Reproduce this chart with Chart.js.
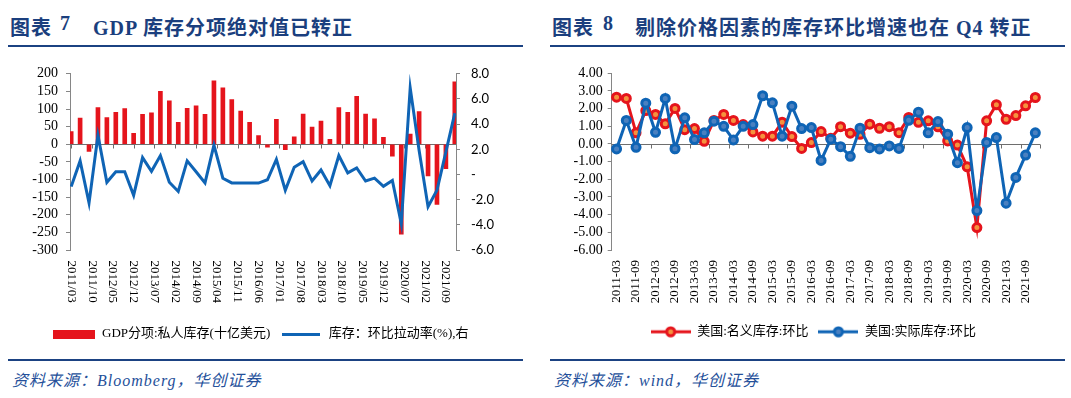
<!DOCTYPE html>
<html>
<head>
<meta charset="utf-8">
<script src="https://cdn.jsdelivr.net/npm/chart.js@4.4.1/dist/chart.umd.min.js"></script>
<style>
  html, body { margin: 0; padding: 0; background: #fff; }
  body { width: 1071px; height: 398px; position: relative; overflow: hidden; }
  .ttl { position: absolute; top: 12px; line-height: 26px; white-space: nowrap; letter-spacing: 1px;
         font: bold 20px 'Liberation Serif', 'Noto Sans CJK SC', serif; color: #1b3f7e; }
  .rule { position: absolute; height: 2px; width: 515px; background: #1b4282; }
  .src { position: absolute; top: 367px; line-height: 20px; white-space: nowrap; letter-spacing: 1px;
         font: italic 16px 'Liberation Serif', 'Noto Sans CJK SC', serif; color: #25509a; }
  canvas { position: absolute; top: 55px; }
</style>
</head>
<body>
<span class="ttl" style="left:10px">图表</span>
<span class="ttl" style="left:60px">7</span>
<span class="ttl" style="left:93px">GDP 库存分项绝对值已转正</span>
<div class="rule" style="left:8px;top:45px"></div>

<span class="ttl" style="left:552px">图表</span>
<span class="ttl" style="left:603px">8</span>
<span class="ttl" style="left:635px">剔除价格因素的库存环比增速也在 Q4 转正</span>
<div class="rule" style="left:550px;top:45px"></div>

<canvas id="c1" width="530" height="300" style="left:0px"></canvas>
<canvas id="c2" width="531" height="300" style="left:540px"></canvas>

<div class="rule" style="left:8px;top:359px"></div>
<div class="rule" style="left:550px;top:359px"></div>
<span class="src" style="left:12px">资料来源：Bloomberg，华创证券</span>
<span class="src" style="left:554px">资料来源：wind，华创证券</span>

<script>
// quarterly data, 2011Q1 .. 2021Q4
const quarters = [
  '2011-03','2011-06','2011-09','2011-12','2012-03','2012-06','2012-09','2012-12',
  '2013-03','2013-06','2013-09','2013-12','2014-03','2014-06','2014-09','2014-12',
  '2015-03','2015-06','2015-09','2015-12','2016-03','2016-06','2016-09','2016-12',
  '2017-03','2017-06','2017-09','2017-12','2018-03','2018-06','2018-09','2018-12',
  '2019-03','2019-06','2019-09','2019-12','2020-03','2020-06','2020-09','2020-12',
  '2021-03','2021-06','2021-09','2021-12'
];

// chart 7: private inventory (bn USD) and its q/q contribution (%)
const gdpInventory = [36, 74, -20, 104, 76, 91, 101, 31, 85, 89, 150, 123, 62, 102, 109, 85,
  180, 160, 127, 94, 62, 25, -8, 71, -15, 21, 86, 49, 66, 14, 104, 91,
  136, 86, 72, 20, -34, -255, 29, 93, -90, -171, -69, 177];
const inventoryPull = [-0.96, 1.08, -2.26, 3.12, -0.62, 0.22, 0.22, -1.66, 1.34, 0.25, 1.50, -0.62, -1.35, 1.08, 0.22, -0.67,
  2.33, -0.30, -0.67, -0.67, -0.68, -0.68, -0.42, 1.20, -1.25, 0.57, 1.01, -0.52, 0.36, -0.89, 1.51, 0.13,
  0.52, -0.52, -0.29, -0.94, -0.47, -3.91, 6.88, 1.90, -2.56, -1.25, 1.80, 4.87];
const tickLabels7 = ['2011/03','2011/10','2012/05','2012/12','2013/07','2014/02','2014/09','2015/04',
  '2015/11','2016/06','2017/01','2017/08','2018/03','2018/10','2019/05','2019/12','2020/07','2021/02','2021/09'];

// chart 8: nominal vs real inventory q/q (%)
const nominalQoQ = [2.65, 2.58, 0.63, 1.89, 1.67, 1.14, 2.01, 0.81, 0.87, 0.15, 1.33, 1.67, 1.33, 1.10, 0.68, 0.44,
  0.44, 1.23, 0.42, -0.25, 0.08, 0.70, 0.32, 0.98, 0.61, 0.55, 1.12, 0.89, 0.98, 0.64, 1.50, 1.23,
  1.31, 0.97, 0.17, -0.06, -1.29, -4.73, 1.31, 2.22, 1.40, 1.61, 2.16, 2.63];
const realQoQ = [-0.28, 1.33, -0.19, 2.31, 0.66, 2.58, -0.27, 1.48, 0.25, 0.63, 1.29, 1.00, 0.23, 1.00, 1.10, 2.73,
  2.33, 0.44, 2.14, 0.87, 0.93, -0.93, 0.27, -0.15, -0.70, 0.89, -0.21, -0.28, -0.11, -0.25, 1.34, 1.80,
  0.63, 1.27, 0.55, -1.06, 0.93, -3.77, 0.09, 0.36, -3.35, -1.89, -0.63, 0.63];

const RED = '#e5141c', BLUE = '#0f64b5', ORANGE = '#f5923e', LBLUE = '#4a80c0', AXIS = '#868686';
const SERIF = "'Liberation Serif', 'Noto Sans CJK SC', serif";
Chart.defaults.font.family = SERIF;
Chart.defaults.color = '#000';

// months since 2011/03, works for both '2011-03' and '2011/03'
const monthOf = s => (+s.slice(0, 4) - 2011) * 12 + (+s.slice(5, 7) - 3);

function swatch(w, h, draw) {
  const c = document.createElement('canvas');
  c.width = w; c.height = h;
  draw(c.getContext('2d'));
  return c;
}
const redBox = swatch(42, 9, g => { g.fillStyle = RED; g.fillRect(0, 0, 42, 9); });
const blueLine = swatch(38, 3, g => { g.fillStyle = BLUE; g.fillRect(0, 0, 38, 3); });
const marker = (line, fill) => swatch(40, 12, g => {
  g.strokeStyle = line; g.lineWidth = 3;
  g.beginPath(); g.moveTo(0, 6); g.lineTo(40, 6); g.stroke();
  g.beginPath(); g.arc(20, 6, 4, 0, Math.PI * 2); g.fillStyle = fill; g.fill(); g.stroke();
});

const PLOT_BOTTOM = 195;

// zero axis with tick marks, rotated (top-to-bottom) date labels
const deco7 = {
  id: 'deco7',
  beforeDatasetsDraw(chart) {
    const {ctx, chartArea: a, scales: {x, y}} = chart;
    const y0 = Math.round(y.getPixelForValue(0)) + 0.5;
    ctx.save();
    ctx.strokeStyle = '#6e6e6e'; ctx.lineWidth = 1;
    ctx.beginPath();
    ctx.moveTo(a.left, y0); ctx.lineTo(a.right, y0);
    tickLabels7.forEach(t => {
      const px = Math.round(x.getPixelForValue(monthOf(t))) + 0.5;
      ctx.moveTo(px, y0); ctx.lineTo(px, y0 + 4);
    });
    ctx.stroke();
    ctx.restore();
  },
  afterDraw(chart) {
    const {ctx, chartArea: a, scales: {x}} = chart;
    ctx.save();
    ctx.font = '13px ' + SERIF;
    ctx.fillStyle = '#000';
    ctx.textAlign = 'left'; ctx.textBaseline = 'middle';
    tickLabels7.forEach(t => {
      ctx.save();
      ctx.translate(x.getPixelForValue(monthOf(t)), a.bottom + 10.5);
      ctx.rotate(Math.PI / 2);
      ctx.fillText(t, 0, 0);
      ctx.restore();
    });
    ctx.restore();
  }
};

const deco8 = {
  id: 'deco8',
  afterLayout(chart) {
    // legend sits centred under the labels + plot, not only the plot box
    chart.legend.left += 23.3;
    chart.legend.right += 23.3;
  },
  beforeDatasetsDraw(chart) {
    const {ctx, chartArea: a, scales: {x, y}} = chart;
    const y0 = Math.round(y.getPixelForValue(0)) + 0.5;
    ctx.save();
    ctx.strokeStyle = '#6e6e6e'; ctx.lineWidth = 1;
    ctx.beginPath();
    ctx.moveTo(a.left, y0); ctx.lineTo(a.right, y0);
    for (let k = 1; k < quarters.length; k += 2) {
      const px = Math.round(x.getPixelForValue(k + 0.5)) + 0.5;
      ctx.moveTo(px, y0); ctx.lineTo(px, y0 + 4);
    }
    ctx.stroke();
    ctx.restore();
  }
};

// chart 7
new Chart(document.getElementById('c1'), {
  type: 'bar',
  data: {
    datasets: [
      { type: 'bar', label: 'GDP分项:私人库存(十亿美元)', yAxisID: 'y', order: 1,
        data: quarters.map((q, i) => ({x: monthOf(q), y: gdpInventory[i]})),
        backgroundColor: RED, barThickness: 4 },
      { type: 'line', label: '库存：环比拉动率(%),右', yAxisID: 'y2', order: 0,
        data: quarters.map((q, i) => ({x: monthOf(q), y: inventoryPull[i]})),
        borderColor: BLUE, borderWidth: 3, pointRadius: 0, tension: 0 }
    ]
  },
  options: {
    responsive: false, animation: false, devicePixelRatio: 1,
    layout: { padding: { left: 0, right: 8, top: 17, bottom: 4.5 } },
    plugins: {
      tooltip: { enabled: false },
      legend: {
        position: 'bottom',
        labels: {
          usePointStyle: true, pointStyleWidth: 42, padding: 10, color: '#000', font: { size: 13 },
          generateLabels: () => [
            { text: 'GDP分项:私人库存(十亿美元)', pointStyle: redBox, fillStyle: RED, strokeStyle: RED, lineWidth: 0, hidden: false, datasetIndex: 0 },
            { text: '库存：环比拉动率(%),右', pointStyle: blueLine, fillStyle: BLUE, strokeStyle: BLUE, lineWidth: 0, hidden: false, datasetIndex: 1 }
          ]
        }
      }
    },
    scales: {
      x: { type: 'linear', offset: false, min: -0.4, max: 129.4,
           grid: { display: false }, border: { display: false }, ticks: { display: false },
           afterFit: s => { s.height = s.chart.height - 4.5 - s.chart.legend.height - PLOT_BOTTOM; } },
      y: { position: 'left', min: -300, max: 200,
           ticks: { stepSize: 50, autoSkip: false, padding: 8, color: '#000', font: { size: 14 } },
           grid: { drawOnChartArea: false, tickLength: 4, color: AXIS },
           border: { color: AXIS },
           afterFit: s => { s.width = 70; } },
      y2: { position: 'right', min: -6, max: 8,
            ticks: { stepSize: 2, autoSkip: false, padding: 11, color: '#000', font: { family: 'Lato', size: 13 },
                     callback: v => v === 0 ? '-' : v.toFixed(1) },
            grid: { drawOnChartArea: false, tickLength: 4, color: AXIS },
            border: { color: AXIS },
            afterFit: s => { s.width = 66; } }
    }
  },
  plugins: [deco7]
});

// chart 8
new Chart(document.getElementById('c2'), {
  type: 'line',
  data: {
    labels: quarters,
    datasets: [
      { label: '美国:名义库存:环比', data: nominalQoQ, order: 1,
        borderColor: RED, borderWidth: 3, tension: 0,
        pointRadius: 4, pointBorderWidth: 3, pointBorderColor: RED, pointBackgroundColor: ORANGE },
      { label: '美国:实际库存:环比', data: realQoQ, order: 0,
        borderColor: BLUE, borderWidth: 3, tension: 0,
        pointRadius: 4, pointBorderWidth: 3, pointBorderColor: BLUE, pointBackgroundColor: LBLUE }
    ]
  },
  options: {
    responsive: false, animation: false, devicePixelRatio: 1,
    layout: { padding: { left: 0, right: 30.8, top: 18.3, bottom: 6.7 } },
    plugins: {
      tooltip: { enabled: false },
      legend: {
        position: 'bottom',
        labels: {
          usePointStyle: true, pointStyleWidth: 40, padding: 10, color: '#000', font: { size: 13 },
          generateLabels: () => [
            { text: '美国:名义库存:环比', pointStyle: marker(RED, ORANGE), fillStyle: RED, strokeStyle: RED, lineWidth: 0, hidden: false, datasetIndex: 0 },
            { text: '美国:实际库存:环比', pointStyle: marker(BLUE, LBLUE), fillStyle: BLUE, strokeStyle: BLUE, lineWidth: 0, hidden: false, datasetIndex: 1 }
          ]
        }
      }
    },
    scales: {
      x: { type: 'category', offset: true,
           grid: { display: false, drawTicks: false }, border: { display: false },
           ticks: { autoSkip: false, minRotation: 90, maxRotation: 90, padding: 10, color: '#000',
                    font: { size: 13 }, callback: (v, i) => i % 2 ? '' : quarters[i] },
           afterFit: s => { s.height = s.chart.height - 6.7 - s.chart.legend.height - PLOT_BOTTOM; } },
      y: { min: -6, max: 4,
           ticks: { stepSize: 1, autoSkip: false, padding: 5, color: '#000', font: { size: 14 }, callback: v => v.toFixed(2) },
           grid: { drawOnChartArea: false, tickLength: 4, color: AXIS },
           border: { color: AXIS },
           afterFit: s => { s.width = 71.7; } }
    }
  },
  plugins: [deco8]
});
</script>
</body>
</html>
